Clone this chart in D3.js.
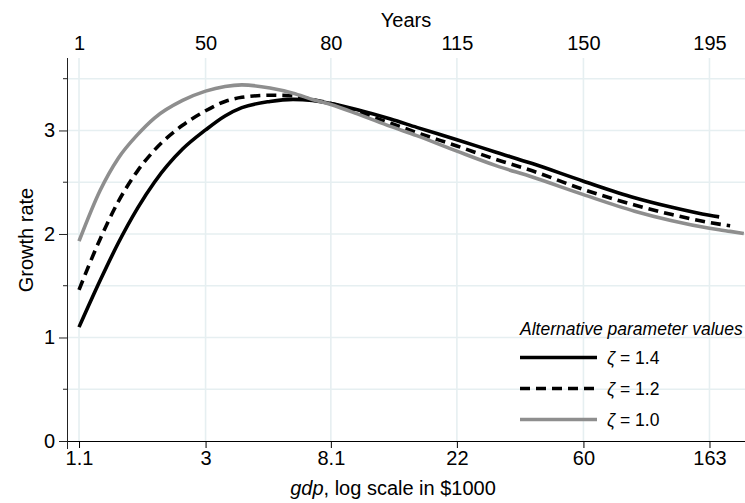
<!DOCTYPE html>
<html>
<head>
<meta charset="utf-8">
<script src="https://cdn.jsdelivr.net/npm/d3@7"></script>
<style>
  html, body { margin: 0; padding: 0; background: #fff; }
  svg { display: block; font-family: "Liberation Sans", Arial, Helvetica, sans-serif; }
</style>
</head>
<body>
<svg id="chart" width="745" height="503"></svg>
<script>
// GDP per capita (in $1000) at which growth is evaluated
const gdp = [1.1, 1.3, 1.5, 1.75, 2.0, 2.5, 3.0, 3.5, 4.0, 5.0, 6.0, 7.0, 8.1, 10, 13, 16, 22, 30, 40, 60, 90, 120, 163, 176, 192, 214];

// Growth rate paths for each parameter value (null where the path has ended)
const growthZeta14 = [1.10, 1.55, 1.91, 2.25, 2.50, 2.82, 3.005, 3.14, 3.22, 3.28, 3.30, 3.29, 3.26, 3.20, 3.11, 3.03, 2.91, 2.79, 2.68, 2.51, 2.35, 2.26, 2.18, 2.165, null, null];
const growthZeta12 = [1.46, 1.95, 2.31, 2.61, 2.81, 3.05, 3.19, 3.28, 3.32, 3.34, 3.335, 3.30, 3.26, 3.18, 3.07, 2.98, 2.85, 2.72, 2.61, 2.43, 2.28, 2.19, 2.11, 2.095, 2.08, null];
const growthZeta10 = [1.93, 2.42, 2.73, 2.96, 3.12, 3.29, 3.38, 3.425, 3.44, 3.41, 3.36, 3.30, 3.25, 3.16, 3.04, 2.95, 2.80, 2.66, 2.55, 2.38, 2.22, 2.13, 2.055, 2.04, 2.025, 2.005];

// Axis ticks
const gdpTicks = [1.1, 3, 8.1, 22, 60, 163];
const yearLabels = ["1", "50", "80", "115", "150", "195"];
const growthTicks = [0, 1, 2, 3];
const growthMinorTicks = [0.5, 1.5, 2.5, 3.5];

// Legend entries
const zetaLabels = ["1.4", "1.2", "1.0"];

const svg = d3.select("#chart");
const plotLeft = 67, plotRight = 745, plotTop = 58, plotBottom = 441;

const x = d3.scaleLog().domain([1.0, 216]).range([plotLeft, plotRight]);
const y = d3.scaleLinear().domain([0, 3.7]).range([plotBottom, plotTop]);

const series = [
  { label: zetaLabels[0], values: growthZeta14, color: "#000", dash: null },
  { label: zetaLabels[1], values: growthZeta12, color: "#000", dash: "10,6" },
  { label: zetaLabels[2], values: growthZeta10, color: "#8e8e8e", dash: null }
];

const gridColor = "#e6eff1";
const fontSize = 20;
const legendFont = 17.5;

// Grid
const grid = svg.append("g");
grid.selectAll("line.h")
  .data(growthTicks.concat(growthMinorTicks).filter(v => v > 0))
  .join("line")
  .attr("class", "h")
  .attr("x1", plotLeft).attr("x2", plotRight)
  .attr("y1", d => y(d)).attr("y2", d => y(d))
  .attr("stroke", gridColor).attr("stroke-width", 1.6);
grid.selectAll("line.v")
  .data(gdpTicks)
  .join("line")
  .attr("class", "v")
  .attr("x1", d => x(d)).attr("x2", d => x(d))
  .attr("y1", plotTop).attr("y2", plotBottom)
  .attr("stroke", gridColor).attr("stroke-width", 1.6);

// Bottom axis
const xAxis = svg.append("g")
  .attr("transform", `translate(0,${plotBottom})`)
  .call(d3.axisBottom(x).tickValues(gdpTicks).tickFormat(d3.format("")).tickSize(7).tickPadding(3));
xAxis.select(".domain").attr("d", `M${plotLeft - 8},0.5H${plotRight}`).attr("stroke", "#000");
xAxis.selectAll(".tick line").attr("stroke", "#000");
xAxis.selectAll("text").attr("font-size", fontSize).attr("fill", "#000");

// Top axis: calendar years at the same positions
const xTop = svg.append("g")
  .attr("transform", `translate(0,${plotTop})`)
  .call(d3.axisTop(x).tickValues(gdpTicks).tickFormat((d, i) => yearLabels[i]).tickSize(0).tickPadding(8));
xTop.select(".domain").remove();
xTop.selectAll("text").attr("font-size", fontSize).attr("fill", "#000");

// Left axis
const yAxis = svg.append("g")
  .attr("transform", `translate(${plotLeft},0)`)
  .call(d3.axisLeft(y).tickValues(growthTicks).tickFormat(d3.format("d")).tickSize(8).tickPadding(4));
yAxis.select(".domain").attr("d", `M0.5,${plotTop}V${plotBottom + 8}`).attr("stroke", "#222");
yAxis.selectAll(".tick line").attr("stroke", "#222");
yAxis.selectAll("text").attr("font-size", fontSize).attr("fill", "#000");
yAxis.selectAll("line.minor")
  .data(growthMinorTicks)
  .join("line")
  .attr("class", "minor")
  .attr("x1", -4).attr("x2", 0)
  .attr("y1", d => y(d)).attr("y2", d => y(d))
  .attr("stroke", "#222");

// Axis titles
svg.append("text")
  .attr("x", 406).attr("y", 27)
  .attr("text-anchor", "middle").attr("font-size", fontSize)
  .text("Years");

const xTitle = svg.append("text")
  .attr("x", 393).attr("y", 495)
  .attr("text-anchor", "middle").attr("font-size", fontSize);
xTitle.append("tspan").attr("font-style", "italic").text("gdp");
xTitle.append("tspan").text(", log scale in $1000");

svg.append("text")
  .attr("transform", "translate(33,240) rotate(-90)")
  .attr("text-anchor", "middle").attr("font-size", fontSize)
  .text("Growth rate");

// Curves
const line = d3.line()
  .defined(d => d[1] != null)
  .x(d => x(d[0]))
  .y(d => y(d[1]))
  .curve(d3.curveMonotoneX);

svg.append("g").selectAll("path")
  .data(series)
  .join("path")
  .attr("d", s => line(gdp.map((g, i) => [g, s.values[i]])))
  .attr("fill", "none")
  .attr("stroke", s => s.color)
  .attr("stroke-width", 3.6)
  .attr("stroke-dasharray", s => s.dash);

// Legend
const legend = svg.append("g").attr("transform", "translate(520,0)");
legend.append("text")
  .attr("x", 0).attr("y", 335)
  .attr("font-size", legendFont).attr("font-style", "italic")
  .text("Alternative parameter values");

const rows = legend.selectAll("g.row")
  .data(series)
  .join("g")
  .attr("class", "row")
  .attr("transform", (d, i) => `translate(0,${357.5 + i * 31})`);
rows.append("line")
  .attr("x1", 0).attr("x2", 77)
  .attr("stroke", d => d.color)
  .attr("stroke-width", 3.6)
  .attr("stroke-dasharray", d => d.dash);
const lbl = rows.append("text")
  .attr("x", 87).attr("y", 6)
  .attr("font-size", legendFont);
lbl.append("tspan").attr("font-style", "italic").text("ζ");
lbl.append("tspan").text(d => " = " + d.label);
</script>
</body>
</html>
